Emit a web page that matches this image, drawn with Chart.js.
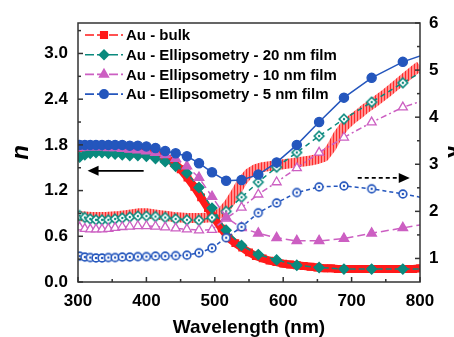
<!DOCTYPE html>
<html>
<head>
<meta charset="utf-8">
<script src="https://cdn.jsdelivr.net/npm/chart.js@4/dist/chart.umd.min.js"></script>
<style>
  html, body { margin: 0; padding: 0; background: #fff; overflow: hidden; }
  #wrap { position: relative; width: 474px; height: 337px; }
</style>
</head>
<body>
<div id="wrap"><canvas id="optics"></canvas></div>
<script>
// ellipsometry fit wavelengths (nm), last one sits past the axis end
const ellipsWl = [302.4, 310.0, 317.9, 326.3, 335.1, 344.4, 354.2, 364.7, 375.7, 387.5, 400.0, 413.3, 427.5,
  442.8, 459.2, 476.9, 495.9, 516.6, 539.1, 563.6, 590.4, 619.9, 652.5, 688.8, 729.3, 774.9, 826.6];

const n20 = [1.64, 1.67, 1.69, 1.70, 1.70, 1.69, 1.68, 1.67, 1.66, 1.66, 1.65, 1.62, 1.58,
  1.52, 1.43, 1.24, 0.97, 0.68, 0.48, 0.36, 0.29, 0.22, 0.19, 0.17, 0.17, 0.17, 0.17];
const k20 = [1.91, 1.87, 1.84, 1.82, 1.82, 1.82, 1.84, 1.86, 1.88, 1.90, 1.90, 1.89, 1.87,
  1.84, 1.82, 1.81, 1.87, 2.00, 2.30, 2.62, 2.94, 3.25, 3.60, 3.96, 4.32, 4.73, 5.16];
const n10 = [1.76, 1.77, 1.77, 1.77, 1.77, 1.76, 1.76, 1.75, 1.74, 1.73, 1.72, 1.70, 1.67,
  1.62, 1.52, 1.37, 1.12, 0.85, 0.71, 0.64, 0.58, 0.54, 0.54, 0.57, 0.64, 0.71, 0.79];
const k10 = [1.66, 1.63, 1.62, 1.62, 1.62, 1.63, 1.65, 1.67, 1.68, 1.69, 1.69, 1.68, 1.66,
  1.64, 1.62, 1.60, 1.61, 1.85, 2.08, 2.36, 2.62, 2.92, 3.25, 3.57, 3.89, 4.21, 4.46];
const n5 = [1.80, 1.80, 1.80, 1.80, 1.80, 1.80, 1.80, 1.80, 1.79, 1.79, 1.78, 1.76, 1.72,
  1.69, 1.65, 1.56, 1.44, 1.33, 1.34, 1.41, 1.57, 1.80, 2.10, 2.42, 2.68, 2.89, 3.05];
const k5 = [1.05, 1.03, 1.02, 1.01, 1.01, 1.02, 1.02, 1.03, 1.03, 1.04, 1.04, 1.05, 1.05,
  1.06, 1.07, 1.12, 1.22, 1.44, 1.67, 1.97, 2.18, 2.40, 2.52, 2.54, 2.48, 2.37, 2.23];

// bulk gold, 10 nm steps
const bulkWl = [300, 310, 320, 330, 340, 350, 360, 370, 380, 390, 400, 410, 420, 430, 440, 450, 460,
  470, 480, 490, 500, 510, 520, 530, 540, 550, 560, 570, 580, 590, 600, 610, 620, 630, 640, 650,
  660, 670, 680, 690, 700, 710, 720, 730, 740, 750, 760, 770, 780, 790, 800];
const nBulk = [1.76, 1.76, 1.75, 1.75, 1.74, 1.74, 1.73, 1.73, 1.72, 1.72, 1.71, 1.69, 1.66, 1.62, 1.57, 1.48, 1.37,
  1.25, 1.11, 0.97, 0.83, 0.70, 0.58, 0.51, 0.45, 0.39, 0.34, 0.31, 0.28, 0.26, 0.24, 0.23, 0.22, 0.21, 0.20, 0.19,
  0.18, 0.18, 0.17, 0.17, 0.17, 0.17, 0.17, 0.17, 0.17, 0.17, 0.17, 0.17, 0.17, 0.17, 0.18];
const kBulk = [1.90, 1.89, 1.88, 1.88, 1.88, 1.89, 1.90, 1.92, 1.94, 1.96, 1.96, 1.94, 1.92, 1.90, 1.88, 1.87, 1.86,
  1.86, 1.86, 1.87, 1.90, 1.98, 2.15, 2.38, 2.64, 2.81, 2.90, 2.94, 2.96, 2.98, 3.00, 3.02, 3.04, 3.06, 3.08, 3.11,
  3.16, 3.35, 3.62, 3.82, 3.95, 4.06, 4.18, 4.28, 4.39, 4.50, 4.62, 4.74, 4.86, 4.98, 5.09];

const legendLabels = ['Au - bulk', 'Au - Ellipsometry - 20 nm film', 'Au - Ellipsometry - 10 nm film', 'Au - Ellipsometry - 5 nm film'];

const RED = '#ff1a1a', TEAL = '#0a8a7e', PINK = '#cc5fc2', BLUE = '#2456bd';
const FONT = '"Liberation Sans", Arial, sans-serif';

// open markers with a dot in the middle (Origin style)
function dotMarker(shape, color, r) {
  const c = document.createElement('canvas');
  const s = Math.ceil(2 * r + 4);
  c.width = c.height = s;
  const g = c.getContext('2d');
  const m = s / 2;
  g.lineWidth = 1.6;
  g.strokeStyle = color;
  g.fillStyle = '#fff';
  g.beginPath();
  if (shape === 'circle') {
    g.arc(m, m, r, 0, Math.PI * 2);
  } else {
    g.moveTo(m, m - r); g.lineTo(m + r, m); g.lineTo(m, m + r); g.lineTo(m - r, m); g.closePath();
  }
  g.fill();
  g.stroke();
  g.fillStyle = color;
  g.beginPath();
  g.arc(m, m, 1.2, 0, Math.PI * 2);
  g.fill();
  return c;
}

// the dense open squares of the bulk k curve read as a striped ribbon
function stripes() {
  const c = document.createElement('canvas');
  c.width = 3; c.height = 3;
  const g = c.getContext('2d');
  g.fillStyle = '#ff8f8f';
  g.fillRect(0, 0, 3, 3);
  g.fillStyle = '#ff2a2a';
  g.fillRect(0, 0, 1, 3);
  return g.createPattern(c, 'repeat');
}

function pts(xs, ys) {
  return xs.map((x, i) => ({ x: x, y: ys[i] }));
}

function series(data, axis, color, dash, style, radius, fill, order, width) {
  return {
    data: data,
    yAxisID: axis,
    borderColor: color,
    borderWidth: width || 1.5,
    borderDash: dash,
    pointStyle: style,
    pointRadius: radius,
    pointBorderColor: color,
    pointBackgroundColor: fill,
    pointBorderWidth: 1.3,
    tension: 0,
    order: order,
    clip: 0
  };
}

const kBulkSet = series(pts(bulkWl, kBulk), 'y1', stripes(), [], 'rect', 0, '#fff', 4, 10);
kBulkSet.borderJoinStyle = 'round';

const datasets = [
  series(pts(ellipsWl, n5), 'y', BLUE, [], 'circle', 4.6, BLUE, 1),
  series(pts(ellipsWl, k5), 'y1', BLUE, [4, 3], dotMarker('circle', BLUE, 3.9), 4, '#fff', 1),
  series(pts(ellipsWl, n10), 'y', PINK, [8, 4], 'triangle', 5.5, PINK, 2),
  series(pts(ellipsWl, k10), 'y1', PINK, [6, 3, 2, 3], 'triangle', 5.2, '#fff', 2),
  series(pts(ellipsWl, n20), 'y', TEAL, [6, 3], 'rectRot', 5, TEAL, 3),
  series(pts(ellipsWl, k20), 'y1', TEAL, [5, 4], dotMarker('diamond', TEAL, 4.8), 4.5, '#fff', 3),
  series(pts(bulkWl, nBulk), 'y', RED, [], 'rect', 4.6, RED, 4, 8),
  kBulkSet
];

// legend symbols: marker over a dashed stub
const legendStyles = [
  { color: RED, style: 'rect', r: 4.6 },
  { color: TEAL, style: 'rectRot', r: 4.6 },
  { color: PINK, style: 'triangle', r: 5 },
  { color: BLUE, style: 'circle', r: 4.2 }
];

const decor = {
  id: 'decor',
  afterDatasetsDraw(chart) {
    const { ctx, chartArea: a, scales } = chart;
    ctx.save();

    // frame
    ctx.strokeStyle = '#333';
    ctx.lineWidth = 1.5;
    ctx.strokeRect(a.left, a.top, a.right - a.left, a.bottom - a.top);

    // inward ticks, major + minor
    const seg = (x1, y1, x2, y2) => { ctx.beginPath(); ctx.moveTo(x1, y1); ctx.lineTo(x2, y2); ctx.stroke(); };
    const marks = (scale) => {
      const vals = scale.ticks.map(t => t.value);
      const step = vals[1] - vals[0];
      const out = vals.map(v => ({ v: v, len: 5 }));
      [vals[0] - step / 2].concat(vals.map(v => v + step / 2)).forEach(v => {
        if (v > scale.min + 1e-6 && v < scale.max - 1e-6) out.push({ v: v, len: 3 });
      });
      return out;
    };
    marks(scales.x).forEach(m => {
      const px = scales.x.getPixelForValue(m.v);
      seg(px, a.bottom, px, a.bottom - m.len);
    });
    marks(scales.y).forEach(m => {
      const py = scales.y.getPixelForValue(m.v);
      seg(a.left, py, a.left + m.len, py);
    });
    marks(scales.y1).forEach(m => {
      const py = scales.y1.getPixelForValue(m.v);
      seg(a.right, py, a.right - m.len, py);
    });

    // arrows: n -> left axis, k -> right axis
    ctx.strokeStyle = '#000';
    ctx.fillStyle = '#000';
    ctx.lineWidth = 1.8;
    let y = scales.y.getPixelForValue(1.46);
    let x1 = scales.x.getPixelForValue(396), x2 = scales.x.getPixelForValue(314);
    seg(x1, y, x2 + 6, y);
    ctx.beginPath(); ctx.moveTo(x2, y); ctx.lineTo(x2 + 11, y - 5); ctx.lineTo(x2 + 11, y + 5); ctx.closePath(); ctx.fill();

    y = scales.y1.getPixelForValue(2.71);
    x1 = scales.x.getPixelForValue(709); x2 = scales.x.getPixelForValue(785);
    ctx.setLineDash([4, 3]);
    seg(x1, y, x2 - 8, y);
    ctx.setLineDash([]);
    ctx.beginPath(); ctx.moveTo(x2, y); ctx.lineTo(x2 - 11, y - 5); ctx.lineTo(x2 - 11, y + 5); ctx.closePath(); ctx.fill();

    // legend
    ctx.font = 'bold 15px ' + FONT;
    ctx.textBaseline = 'middle';
    legendLabels.forEach((label, i) => {
      const ly = a.top + 12 + i * 19.7;
      const lx = a.left + 7;
      const st = legendStyles[i];
      ctx.strokeStyle = st.color;
      ctx.lineWidth = 1.6;
      ctx.setLineDash([9, 3]);
      seg(lx, ly, lx + 38, ly);
      ctx.setLineDash([]);
      Chart.helpers.drawPoint(ctx, { pointStyle: st.style, radius: st.r, borderWidth: 1 }, lx + 19, ly);
      ctx.fillStyle = st.color;
      ctx.fill();
      ctx.fillStyle = '#000';
      ctx.fillText(label, lx + 41, ly + 1);
    });
    ctx.restore();
  }
};

Chart.defaults.font.family = FONT;
Chart.defaults.color = '#000';

new Chart(document.getElementById('optics'), {
  type: 'line',
  data: { datasets: datasets },
  options: {
    responsive: true,
    maintainAspectRatio: false,
    animation: false,
    layout: { padding: { top: 23, left: 0, right: 0, bottom: 0 } },
    plugins: { legend: { display: false }, tooltip: { enabled: false } },
    scales: {
      x: {
        type: 'linear',
        min: 300,
        max: 800,
        grid: { display: false, drawTicks: false },
        border: { display: false },
        ticks: { stepSize: 100, padding: 9, font: { size: 17, weight: 'bold' } },
        title: {
          display: true,
          text: 'Wavelength (nm)',
          font: { size: 19, weight: 'bold', lineHeight: 1 },
          padding: { top: 0, bottom: 0 }
        },
        afterFit: s => { s.height = 55; }
      },
      y: {
        position: 'left',
        min: 0,
        max: 3.4,
        grid: { display: false, drawTicks: false },
        border: { display: false },
        ticks: {
          stepSize: 0.6,
          includeBounds: false,
          padding: 10,
          font: { size: 17, weight: 'bold' },
          callback: v => v.toFixed(1)
        },
        title: {
          display: true,
          text: 'n',
          font: { size: 24, weight: 'bold', style: 'italic', lineHeight: 1.2 },
          padding: { top: 6.6, bottom: 0 }
        },
        afterFit: s => { s.width = 78; }
      },
      y1: {
        position: 'right',
        min: 0.5,
        max: 6,
        grid: { display: false, drawTicks: false },
        border: { display: false },
        ticks: { stepSize: 1, includeBounds: false, padding: 9, font: { size: 17, weight: 'bold' } },
        title: {
          display: true,
          text: 'k',
          font: { size: 24, weight: 'bold', style: 'italic', lineHeight: 1.2 },
          padding: { top: 4.6, bottom: 0 }
        },
        afterFit: s => { s.width = 54; }
      }
    }
  },
  plugins: [decor]
});
</script>
</body>
</html>
